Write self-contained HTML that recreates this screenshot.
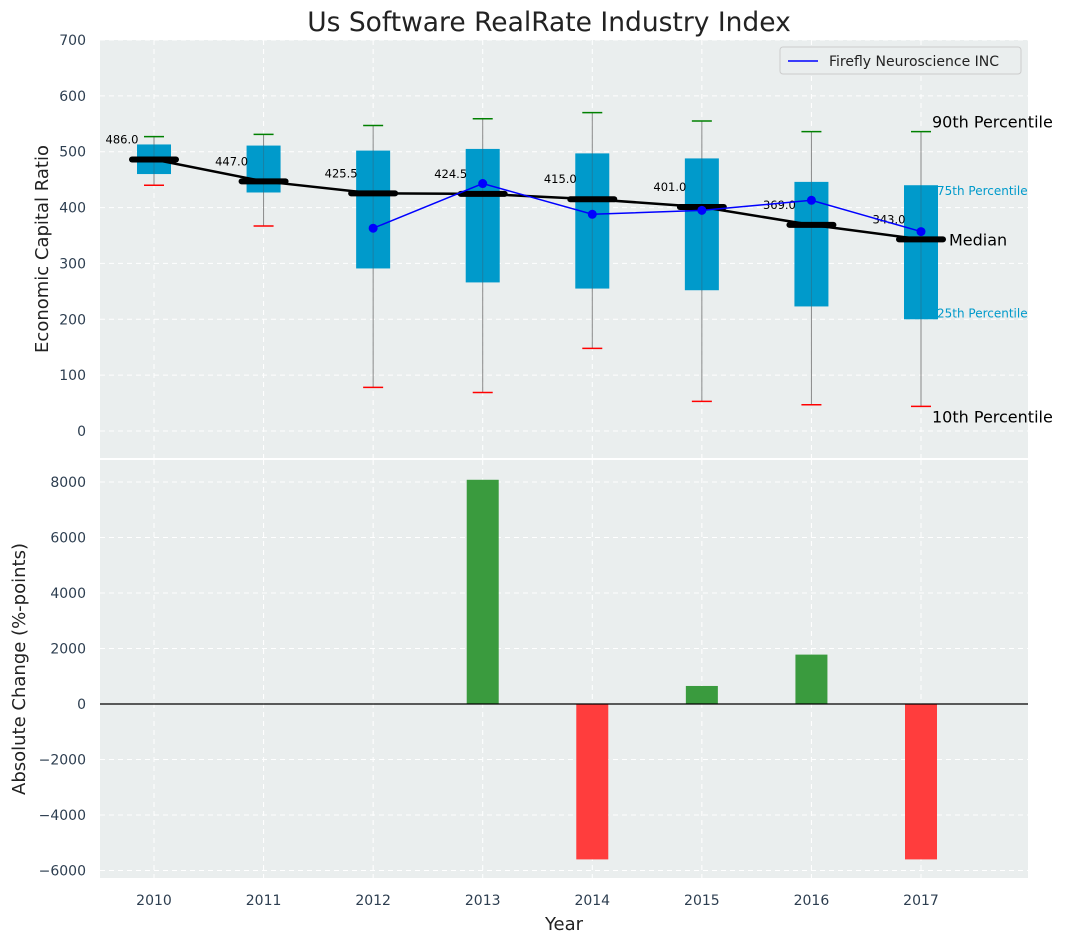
<!DOCTYPE html>
<html><head><meta charset="utf-8"><style>
body{margin:0;background:#fff;}
svg{display:block;font-family:"DejaVu Sans","Liberation Sans",sans-serif;}
</style></head><body>
<svg id="c" width="1067" height="942"></svg>
<script>
const years=[2010,2011,2012,2013,2014,2015,2016,2017];
const p10=[440,367,78,69,148,53,47,44];
const p25=[460,427,291,266,255,252,223,200];
const med=[486,447,425.5,424.5,415,401,369,343];
const p75=[513,511,502,505,497,488,446,440];
const p90=[527,531,547,559,570,555,536,536];
const company=[null,null,363,443,388,395,413,357];
const changes=[0,0,0,8080,-5600,650,1780,-5600];
const topTicks=[0,100,200,300,400,500,600,700];
const botTicks=[-6000,-4000,-2000,0,2000,4000,6000,8000];

const NS="http://www.w3.org/2000/svg";
const svg=document.getElementById('c');
function el(t,a,txt,p){const e=document.createElementNS(NS,t);for(const k in a)e.setAttribute(k,a[k]);if(txt!=null)e.textContent=txt;(p||svg).appendChild(e);return e;}
const X=i=>154+i*(921-154)/7;
const YT=v=>431-v*(431-40)/700;
const YB=v=>704-v*(704-482)/8000;
const L=100,R=1028;

let e=el('rect',{x:L,y:40,width:R-L,height:418,fill:'#eaeeee'});

e=el('rect',{x:L,y:460,width:R-L,height:418,fill:'#eaeeee'});


years.forEach((y,i)=>{
 el('line',{x1:X(i),x2:X(i),y1:40,y2:458,stroke:'#fff','stroke-dasharray':'5,4','stroke-width':1});
 el('line',{x1:X(i),x2:X(i),y1:460,y2:878,stroke:'#fff','stroke-dasharray':'5,4','stroke-width':1});
 e=el('text',{x:X(i),y:905,'text-anchor':'middle','font-size':14,fill:'#2d3e50'},y);
 
});
topTicks.forEach(v=>{
 el('line',{x1:L,x2:R,y1:YT(v),y2:YT(v),stroke:'#fff','stroke-dasharray':'5,4'});
 e=el('text',{x:86,y:YT(v)+5,'text-anchor':'end','font-size':14,fill:'#2d3e50'},v);
 
});
botTicks.forEach(v=>{
 el('line',{x1:L,x2:R,y1:YB(v),y2:YB(v),stroke:'#fff','stroke-dasharray':'5,4'});
 e=el('text',{x:86,y:YB(v)+5,'text-anchor':'end','font-size':14,fill:'#2d3e50'},v<0?'\u2212'+(-v):v);
 
});

years.forEach((y,i)=>{
 const x=X(i);
 e=el('line',{x1:x,x2:x,y1:YT(p90[i]),y2:YT(p10[i]),stroke:'#888','stroke-width':1});
 
 e=el('rect',{x:x-17,y:YT(p75[i]),width:34,height:YT(p25[i])-YT(p75[i]),fill:'#009acb'});
 
 el('line',{x1:x,x2:x,y1:YT(p75[i]),y2:YT(p25[i]),stroke:'#2a6f8a','stroke-width':1,opacity:0.6});
 e=el('line',{x1:x-10,x2:x+10,y1:YT(p90[i]),y2:YT(p90[i]),stroke:'green','stroke-width':1.5});
 
 e=el('line',{x1:x-10,x2:x+10,y1:YT(p10[i]),y2:YT(p10[i]),stroke:'red','stroke-width':1.5});
 
});
e=el('polyline',{points:years.map((y,i)=>X(i)+','+YT(med[i])).join(' '),fill:'none',stroke:'#000','stroke-width':2.5});

years.forEach((y,i)=>{
 e=el('line',{x1:X(i)-22,x2:X(i)+22,y1:YT(med[i]),y2:YT(med[i]),stroke:'#000','stroke-width':6,'stroke-linecap':'round'});
 
 e=el('text',{x:X(i)-32,y:YT(med[i])-16,'text-anchor':'middle','font-size':11.5,fill:'#000'},med[i].toFixed(1));
 
});
const pts=[];company.forEach((v,i)=>{if(v!=null)pts.push([X(i),YT(v)]);});
e=el('polyline',{points:pts.map(p=>p.join(',')).join(' '),fill:'none',stroke:'#0000ff','stroke-width':1.5});

pts.forEach(p=>{e=el('circle',{cx:p[0],cy:p[1],r:4.5,fill:'#0000ff'});});

const li=7,lx=X(li);
[['90th Percentile',p90[li],16,'#000',lx+11,-4],['75th Percentile',p75[li],12,'#009acb',lx+16,10],['Median',med[li],16,'#000',lx+28,6],['25th Percentile',p25[li],12,'#009acb',lx+16,-2],['10th Percentile',p10[li],16,'#000',lx+11,16]].forEach(a=>{
 e=el('text',{x:a[4],y:YT(a[1])+a[5],'font-size':a[2],fill:a[3]},a[0]);
 
});

e=el('g',{});
el('rect',{x:780,y:47,width:241,height:27,rx:3,fill:'#eaeeee',stroke:'#ccc'},null,e);
el('line',{x1:788,x2:818,y1:61,y2:61,stroke:'#0000ff','stroke-width':1.5},null,e);
el('text',{x:829,y:66,'font-size':14,fill:'#222'},'Firefly Neuroscience INC',e);

changes.forEach((v,i)=>{
 if(v===0)return;
 const y0=YB(0),y1=YB(v);
 e=el('rect',{x:X(i)-16,y:Math.min(y0,y1),width:32,height:Math.abs(y1-y0),fill:v>0?'#3a9b3e':'#ff3d3d'});
 
});
el('line',{x1:L,x2:R,y1:YB(0),y2:YB(0),stroke:'#000','stroke-width':1.2});

e=el('text',{x:549,y:31,'text-anchor':'middle','font-size':26.5,fill:'#222'},'Us Software RealRate Industry Index');

e=el('text',{x:564,y:930,'text-anchor':'middle','font-size':18,fill:'#222'},'Year');

e=el('text',{x:0,y:0,'text-anchor':'middle','font-size':18,fill:'#222',transform:'translate(48,249) rotate(-90)'},'Economic Capital Ratio');

e=el('text',{x:0,y:0,'text-anchor':'middle','font-size':18,fill:'#222',transform:'translate(25,669) rotate(-90)'},'Absolute Change (%-points)');

</script>
</body></html>
